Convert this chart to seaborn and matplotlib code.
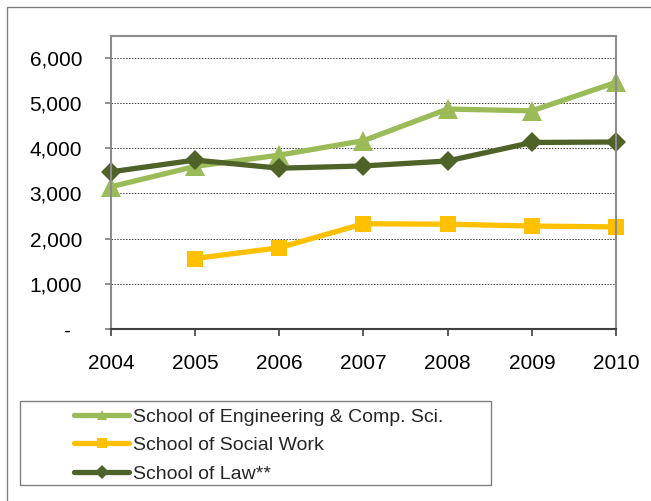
import matplotlib
matplotlib.use('Agg')
import pandas as pd
import matplotlib.pyplot as plt
import matplotlib.transforms as mtransforms
from matplotlib.lines import Line2D
from matplotlib.patches import Rectangle
import seaborn as sns

sns.set_style('white')
plt.rcParams['font.family'] = ['Liberation Sans', 'DejaVu Sans']

# data
years = [2004, 2005, 2006, 2007, 2008, 2009, 2010]
engineering = [3150, 3600, 3850, 4170, 4870, 4830, 5460]
social_years = [2005, 2006, 2007, 2008, 2009, 2010]
social_work = [1560, 1800, 2330, 2320, 2280, 2260]
law = [3480, 3740, 3560, 3610, 3720, 4130, 4140]

names = ['School of Engineering & Comp. Sci.', 'School of Social Work', 'School of Law**']
colors = ['#9BBB59', '#FFC000', '#4F6228']
markers = ['^', 's', 'D']
marker_sizes = [14, 12, 10.5]

y_ticks = [0, 1000, 2000, 3000, 4000, 5000, 6000]
y_labels = ['-', '1,000', '2,000', '3,000', '4,000', '5,000', '6,000']

frames = [
    pd.DataFrame({'Year': years, 'Students': engineering}),
    pd.DataFrame({'Year': social_years, 'Students': social_work}),
    pd.DataFrame({'Year': years, 'Students': law}),
]

fig = plt.figure(figsize=(6.51, 5.01), dpi=100, facecolor='white')
ax = fig.add_axes([111 / 651, (501 - 329) / 501, 505 / 651, 293 / 501])

for df, col, mk, ms in zip(frames, colors, markers, marker_sizes):
    sns.lineplot(data=df, x='Year', y='Students', ax=ax, color=col, linewidth=3.8,
                 marker=mk, markersize=ms, markeredgewidth=0, clip_on=False,
                 solid_joinstyle='round', legend=False)

ax.set_xlim(2004, 2010)
ax.set_ylim(0, 6487)
ax.set_xticks(years)
ax.set_xticklabels([str(y) for y in years])
ax.set_yticks(y_ticks)
ax.set_yticklabels(y_labels)
ax.set_xlabel('')
ax.set_ylabel('')

ax.yaxis.grid(True, linestyle=(0, (1.5, 1.5)), linewidth=0.7, color='#404040')
ax.set_axisbelow(True)

for side in ['left', 'right', 'top']:
    ax.spines[side].set_color('#8C8C8C')
    ax.spines[side].set_linewidth(1.5)
ax.spines['bottom'].set_color('#404040')
ax.spines['bottom'].set_linewidth(1.5)

ax.tick_params(axis='y', left=True, direction='out', length=4.3, width=1.4,
               color='#8C8C8C', pad=16.5, labelsize=15, labelcolor='black')
ax.tick_params(axis='x', bottom=True, direction='out', length=5, width=1.2,
               color='#404040', pad=13, labelsize=15, labelcolor='black')

# the zero label sits further left in the original
zero = ax.get_yticklabels()[0]
zero.set_transform(zero.get_transform() + mtransforms.ScaledTranslation(-0.12, 0, fig.dpi_scale_trans))

# legend with its own frame
handles = [Line2D([], [], color=c, linewidth=3.8, marker=m, markersize=7,
                  markeredgewidth=0, solid_capstyle='round')
           for c, m in zip(colors, markers)]
fig.legend(handles, names, loc='upper left', bbox_to_anchor=(74 / 651, (501 - 408) / 501),
           frameon=False, borderpad=0, borderaxespad=0, handlelength=2.83,
           handletextpad=0.2, labelspacing=0.56, fontsize=14)
fig.add_artist(Rectangle((20 / 651, (501 - 485) / 501), 471 / 651, 84 / 501,
                         transform=fig.transFigure, fill=False, edgecolor='#808080', linewidth=1))

# outer chart border (left and top edges visible)
fig.add_artist(Rectangle((7 / 651, -0.5), 2, 1 - 7 / 501 + 0.5,
                         transform=fig.transFigure, fill=False, edgecolor='#808080', linewidth=1))

fig.savefig('out.png', dpi=100)
